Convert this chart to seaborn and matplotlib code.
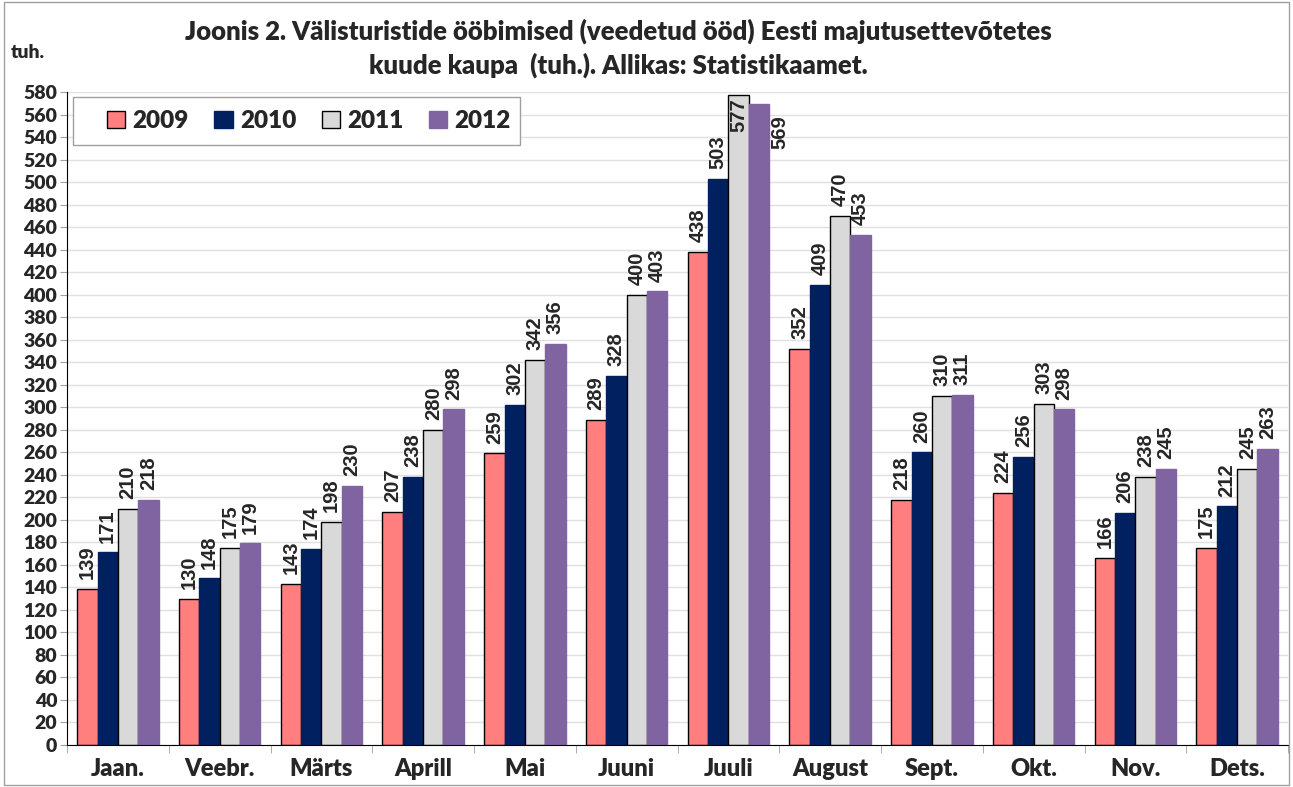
import matplotlib.pyplot as plt
import seaborn as sns
import pandas as pd
import numpy as np

months = ["Jaan.", "Veebr.", "Märts", "Aprill", "Mai", "Juuni",
          "Juuli", "August", "Sept.", "Okt.", "Nov.", "Dets."]
years = ["2009", "2010", "2011", "2012"]
v2009 = [139, 130, 143, 207, 259, 289, 438, 352, 218, 224, 166, 175]
v2010 = [171, 148, 174, 238, 302, 328, 503, 409, 260, 256, 206, 212]
v2011 = [210, 175, 198, 280, 342, 400, 577, 470, 310, 303, 238, 245]
v2012 = [218, 179, 230, 298, 356, 403, 569, 453, 311, 298, 245, 263]
colors = ["#FF7F7F", "#002060", "#D9D9D9", "#8064A2"]
edges = ["black", "#002060", "black", "#8064A2"]

rows = []
for yr, vals in zip(years, [v2009, v2010, v2011, v2012]):
    for m, v in zip(months, vals):
        rows.append({"month": m, "year": yr, "value": v})
df = pd.DataFrame(rows)

sns.set_style("white")
plt.rcParams['font.family'] = ['Lato', 'DejaVu Sans']
plt.rcParams['font.weight'] = 'bold'

fig = plt.figure(figsize=(12.93, 7.87), dpi=100)
ax = fig.add_axes([67 / 1293, 1 - 745 / 787, (1288 - 67) / 1293, (745 - 92) / 787])

sns.barplot(data=df, x="month", y="value", hue="year", palette=colors,
            width=0.8, saturation=1, ax=ax, legend=True)

for cont, ec in zip(ax.containers, edges):
    for bar in cont:
        bar.set_edgecolor(ec)
        bar.set_linewidth(1.0)

# value labels, rotated like in Excel
lab_font = dict(fontsize=14.5, fontweight="bold", family="Liberation Sans", rotation=90)
for i, cont in enumerate(ax.containers):
    for j, bar in enumerate(cont):
        h = bar.get_height()
        x = bar.get_x() + bar.get_width() / 2
        if h > 570:
            ax.annotate(f"{h:.0f}", (x, h), xytext=(0, -2), textcoords="offset points",
                        ha="center", va="top", **lab_font)
        elif h > 560:
            ax.annotate(f"{h:.0f}", (x, h), xytext=(15, -8), textcoords="offset points",
                        ha="center", va="top", **lab_font)
        else:
            ax.annotate(f"{h:.0f}", (x, h), xytext=(0, 7), textcoords="offset points",
                        ha="center", va="bottom", **lab_font)

ax.set_ylim(0, 580)
ax.set_xlim(-0.5, 11.5)
ax.set_yticks(np.arange(0, 581, 20))
ax.yaxis.grid(True, color="#E0E0E0", linewidth=1)
ax.set_axisbelow(True)
ax.set_xlabel("")
ax.set_ylabel("")
for s in ["top", "right"]:
    ax.spines[s].set_visible(False)
ax.spines["left"].set_color("black")
ax.spines["bottom"].set_color("black")
ax.tick_params(axis="y", labelsize=14, length=5, color="#A0A0A0", left=True, pad=2)
ax.tick_params(axis="x", labelsize=17, length=0, pad=9)
for lbl in ax.get_yticklabels() + ax.get_xticklabels():
    lbl.set_fontweight("heavy")
ax.set_xticks(np.arange(-0.5, 12, 1), minor=True)
ax.tick_params(axis="x", which="minor", length=6, color="#A0A0A0", bottom=True)

# legend without its own frame; the box is drawn separately (Excel style)
leg = ax.legend(loc="center left", ncol=4, frameon=False,
                bbox_to_anchor=((107 - 67) / 1221, 1 - (121 - 92) / 653),
                borderpad=0, borderaxespad=0, columnspacing=1.05,
                handlelength=0.75, handleheight=0.75, handletextpad=0.3,
                prop={"weight": "heavy", "size": 17.5})
for h, ec in zip(leg.legend_handles, edges):
    h.set_edgecolor("black" if ec == "black" else h.get_facecolor())
leg_box = plt.Rectangle((73 / 1293, 1 - 145 / 787), 447 / 1293, 48 / 787,
                        transform=fig.transFigure, facecolor="white",
                        edgecolor="#A0A0A0", linewidth=1, zorder=4, clip_on=False)
ax.add_artist(leg_box)
leg.set_zorder(6)

fig.text(0.478, 0.960, "Joonis 2. Välisturistide ööbimised (veedetud ööd) Eesti majutusettevõtetes",
         ha="center", va="center", fontsize=18.5, fontweight="heavy")
fig.text(0.478, 0.917, "kuude kaupa  (tuh.). Allikas: Statistikaamet.",
         ha="center", va="center", fontsize=18.5, fontweight="heavy")
fig.text(0.008, 0.933, "tuh.", ha="left", va="center", fontsize=14, fontweight="heavy")

fig.patches.append(plt.Rectangle((0.003, 0.003), 0.994, 0.994, transform=fig.transFigure,
                                 fill=False, edgecolor="#A0A0A0", linewidth=1))

fig.savefig("out.png", dpi=100)
